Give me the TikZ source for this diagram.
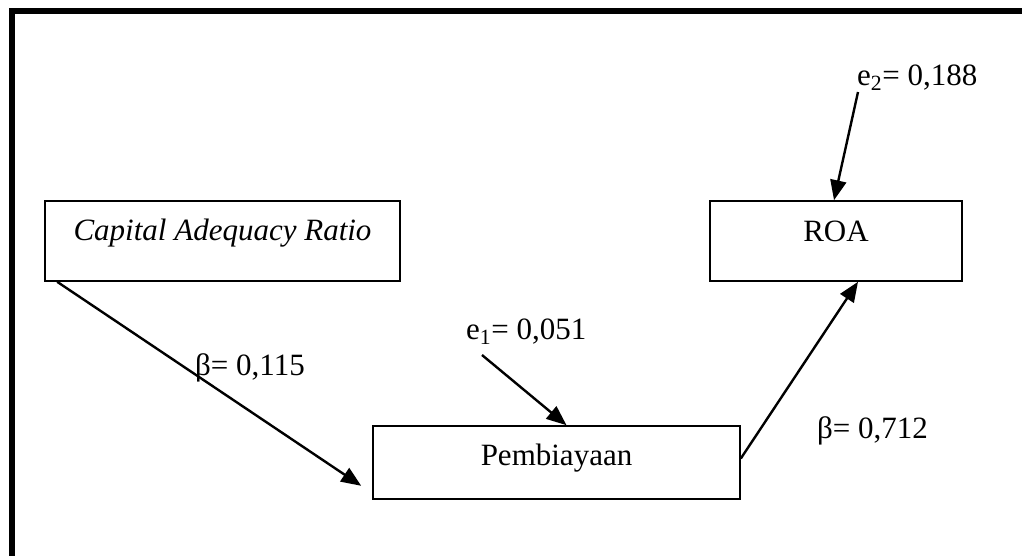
\documentclass[tikz,border=0pt]{standalone}
\usepackage{fontspec}
\setmainfont{Liberation Serif}
\usetikzlibrary{arrows.meta,calc}
\tikzset{
  lbl/.style={font=\fontsize{31}{36}\selectfont, inner sep=0pt, anchor=base west},
  boxnode/.style={draw, line width=1.6pt, font=\fontsize{31}{36}\selectfont, inner sep=0pt, align=center},
  arr/.style={line width=2.4pt, -{Triangle[length=20pt,width=16pt]}},
  frameline/.style={line width=6pt}
}
\begin{document}
\begin{tikzpicture}[x=1pt,y=-1pt]
\useasboundingbox (0,0) rectangle (1022,555);
\clip (0,0) rectangle (1022,555);
\draw[frameline] (12,575) -- (12,11) -- (1040,11);

\node[boxnode, minimum width=355pt, text height=39pt, text depth=41pt] (car) at (222.5,241) {\itshape Capital Adequacy Ratio};
\node[boxnode, minimum width=252pt, text height=40pt, text depth=40pt] (roa) at (836,241) {ROA};
\node[boxnode, minimum width=367pt, text height=39pt, text depth=34pt] (pem) at (556.5,462.5) {Pembiayaan};

\node[lbl] (e1) at (466,339) {e\textsubscript{1}= 0,051};
\node[lbl] (e2) at (857,85) {e\textsubscript{2}= 0,188};
\node[lbl] (b1) at (195,375) {β= 0,115};
\node[lbl] (b2) at (817,438) {β= 0,712};

\coordinate (e1s) at (482,355);
\coordinate (e2s) at (858,92);

\draw[arr] (e1s) -- ($(pem.north)+(10,0)$);
\draw[arr] (e2s) -- ($(roa.north)+(-2,0)$);
\draw[arr] ($(car.south west)+(13,0)$) -- ($(pem.south west)+(-11,-14)$);
\draw[arr] ($(pem.east)+(0,-4)$) -- ($(roa.south)+(22,0)$);
\end{tikzpicture}
\end{document}
